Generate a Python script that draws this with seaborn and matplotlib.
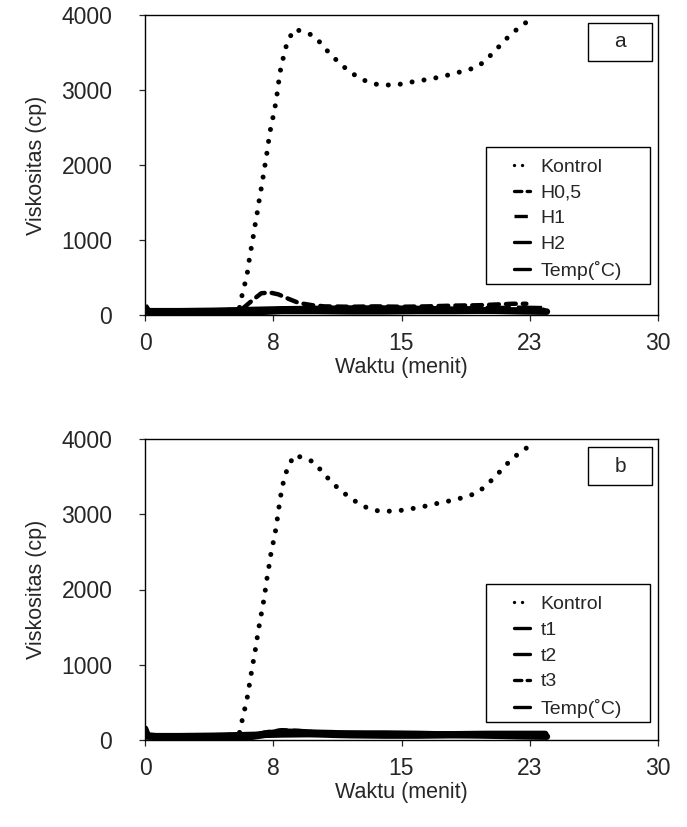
import numpy as np
import pandas as pd
import matplotlib
matplotlib.use("Agg")
import matplotlib.pyplot as plt
import seaborn as sns
from matplotlib.patches import Rectangle
from matplotlib.lines import Line2D

sns.set_style("ticks")
plt.rcParams['font.family'] = ['Liberation Sans', 'DejaVu Sans']

# ---- data ----
# panel a
kontrol_a_t = [0, 2, 4, 5.5, 5.74, 5.94, 6.04, 6.14, 6.28, 6.38, 6.50, 6.62, 6.72, 6.85, 6.95,
               7.07, 7.17, 7.27, 7.39, 7.55, 7.67, 7.79, 7.87, 8.03, 8.17, 8.40, 8.76, 9.82,
               10.31, 10.77, 11.27, 11.82, 12.38, 12.99, 13.69, 14.70, 15.36, 16.07, 16.77,
               17.44, 18.10, 18.80, 19.47, 19.99, 20.48, 20.96, 21.44, 21.99, 22.57]
kontrol_a_v = [60, 60, 60, 70, 333, 498, 644, 809, 969, 1124, 1280, 1440, 1596, 1751, 1911,
               2067, 2227, 2387, 2542, 2702, 2862, 3053, 3213, 3369, 3524, 3680, 3813, 3729,
               3618, 3493, 3382, 3271, 3182, 3111, 3067, 3067, 3098, 3124, 3151,
               3182, 3222, 3262, 3311, 3413, 3524, 3644, 3751, 3853, 3947]

h05_t = [0, 0.2, 2, 4, 5.5, 6.3, 6.8, 7.3, 7.8, 8.4, 9.0, 9.8, 10.5, 12, 13.5, 15, 16.5,
         18, 19.5, 20.5, 21.5, 22.3]
h05_v = [90, 40, 30, 25, 45, 200, 290, 300, 275, 215, 160, 130, 115, 110, 115, 110, 115,
         125, 130, 140, 150, 150]

low_a_t = [0, 0.2, 2, 4, 5, 6, 7, 8, 10, 12, 14, 16, 18, 20, 22, 23.3]
h1_v = [120, 50, 35, 25, 25, 45, 60, 70, 75, 70, 65, 70, 75, 80, 85, 80]
h2_v = [100, 40, 20, 10, 10, 30, 45, 55, 55, 50, 50, 55, 55, 60, 60, 55]

temp_t = [0, 0.2, 1, 2, 4, 6, 8, 10, 12, 14, 16, 18, 20, 22, 23.5]
temp_v = [50, 50, 50, 50, 55, 65, 75, 80, 85, 85, 80, 70, 60, 50, 45]

# panel b
kontrol_b_t = [0, 2, 4, 5.5, 5.74, 5.90, 6.04, 6.14, 6.26, 6.38, 6.50, 6.60, 6.72, 6.85, 6.97,
               7.07, 7.17, 7.29, 7.39, 7.55, 7.67, 7.79, 7.89, 8.01, 8.17, 8.40, 8.76, 9.82,
               10.31, 10.77, 11.27, 11.82, 12.38, 12.99, 13.69, 14.70, 15.36, 16.07, 16.77,
               17.44, 18.10, 18.80, 19.47, 19.99, 20.48, 20.96, 21.44, 21.99, 22.57]
kontrol_b_v = [60, 60, 60, 70, 323, 477, 632, 791, 946, 1105, 1260, 1419, 1574, 1733, 1887,
               2046, 2206, 2360, 2519, 2674, 2829, 3023, 3182, 3346, 3501, 3651, 3788, 3700,
               3580, 3461, 3350, 3249, 3160, 3085, 3041, 3041, 3067, 3090, 3129,
               3160, 3191, 3235, 3288, 3394, 3496, 3620, 3730, 3832, 3920]

low_b_t = [0, 0.15, 1, 2, 3, 4, 5, 6, 7, 8, 9, 10, 11, 12, 14, 16, 18, 20, 22, 23.4]
t1_v = [150, 60, 40, 30, 20, 15, 20, 45, 80, 110, 105, 95, 90, 80, 70, 70, 75, 80, 80, 80]
t2_v = [130, 50, 35, 25, 15, 10, 15, 35, 70, 95, 90, 80, 70, 65, 60, 60, 65, 70, 75, 75]
t3_v = [100, 40, 30, 25, 20, 20, 25, 50, 100, 130, 120, 100, 95, 85, 75, 70, 70, 75, 80, 80]

x_ticks = [0, 7.5, 15, 22.5, 30]
x_tick_labels = ['0', '8', '15', '23', '30']
y_ticks = [0, 1000, 2000, 3000, 4000]

dot_style = dict(linestyle=(0, (0.01, 2.4)), dash_capstyle='round', linewidth=3.6)
dash_style = dict(linestyle=(0, (2.2, 1.6)), dash_capstyle='round', linewidth=3.2)
longdash_style = dict(linestyle=(0, (4, 1)), linewidth=4.5)
solid_style = dict(linestyle='-', linewidth=4.8)


def draw_panel(ax, series, letter, leg_bottom):
    for t, v, st, lab in series:
        df = pd.DataFrame({'Waktu': t, 'Visc': v})
        sns.lineplot(data=df, x='Waktu', y='Visc', ax=ax, color='black', sort=False,
                     estimator=None, **st)
    ax.set_xlim(0, 30)
    ax.set_ylim(0, 4000)
    ax.set_xticks(x_ticks)
    ax.set_xticklabels(x_tick_labels)
    ax.set_yticks(y_ticks)
    ax.tick_params(direction='out', length=4.5, width=0.9, labelsize=16.5)
    ax.tick_params(axis='x', pad=8)
    ax.tick_params(axis='y', pad=19)
    for s in ax.spines.values():
        s.set_visible(True)
        s.set_linewidth(1.0)
        s.set_color('black')
    ax.set_xlabel('Waktu (menit)', fontsize=15.5, labelpad=1)
    ax.set_ylabel('Viskositas (cp)', fontsize=15.5, labelpad=10)

    # letter box
    ax.add_patch(Rectangle((0.864, 0.847), 0.125, 0.127, transform=ax.transAxes,
                           fill=True, fc='white', ec='black', lw=1.0, zorder=5))
    ax.text(0.926, 0.91, letter, transform=ax.transAxes, ha='center', va='center',
            fontsize=15, zorder=6)

    # legend with its own frame
    ax.add_patch(Rectangle((0.665, leg_bottom), 0.319, 0.457, transform=ax.transAxes,
                           fill=True, fc='white', ec='black', lw=1.0, zorder=5))
    handles = []
    for t, v, st, lab in series:
        hs = dict(st)
        hs['linewidth'] = min(2.4, hs['linewidth'])
        handles.append(Line2D([], [], color='black', **hs))
    leg = ax.legend(handles, [s[3] for s in series], loc='center',
                    bbox_to_anchor=(0.665 + 0.319 / 2, leg_bottom + 0.457 / 2 - 0.012),
                    frameon=False, fontsize=14, handlelength=0.8, handletextpad=0.55,
                    labelspacing=0.42)
    leg.set_zorder(6)


fig = plt.figure(figsize=(6.87, 8.27), dpi=100)
ax_a = fig.add_axes([145 / 687, 1 - 315 / 827, 513 / 687, 300 / 827])
ax_b = fig.add_axes([145 / 687, 1 - 740 / 827, 513 / 687, 301 / 827])

series_a = [
    (kontrol_a_t, kontrol_a_v, dot_style, 'Kontrol'),
    (h05_t, h05_v, dash_style, 'H0,5'),
    (low_a_t, h1_v, longdash_style, 'H1'),
    (low_a_t, h2_v, solid_style, 'H2'),
    (temp_t, temp_v, solid_style, 'Temp(˚C)'),
]
series_b = [
    (kontrol_b_t, kontrol_b_v, dot_style, 'Kontrol'),
    (low_b_t, t1_v, solid_style, 't1'),
    (low_b_t, t2_v, solid_style, 't2'),
    (low_b_t, t3_v, dash_style, 't3'),
    (temp_t, temp_v, solid_style, 'Temp(˚C)'),
]

draw_panel(ax_a, series_a, 'a', 0.103)
draw_panel(ax_b, series_b, 'b', 0.061)

fig.savefig('out.png', dpi=100, facecolor='white')
